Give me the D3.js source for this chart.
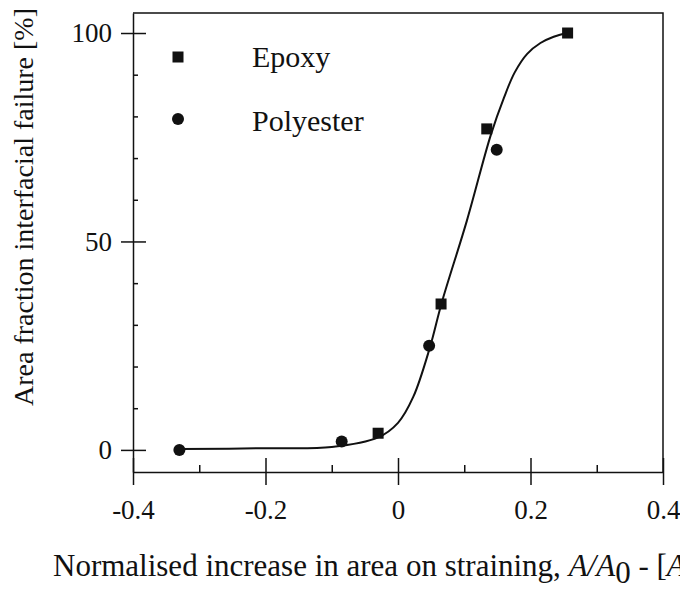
<!DOCTYPE html>
<html>
<head>
<meta charset="utf-8">
<script src="https://cdn.jsdelivr.net/npm/d3@7"></script>
<style>
  body { margin: 0; background: #fff; }
  svg { display: block; font-family: "Liberation Serif", "Times New Roman", serif; }
</style>
</head>
<body>
<div id="graph_area"></div>
<script>
// Data
const epoxyX = [-0.03, 0.065, 0.134, 0.256];
const epoxyY = [4, 35, 77, 100];
const polyX = [-0.33, -0.085, 0.047, 0.149];
const polyY = [0, 2, 25, 72];

// Fitted curve, traced by eye
const fitX = [-0.33, -0.2, -0.1, -0.03, 0, 0.023, 0.048, 0.066, 0.104, 0.14, 0.16, 0.176, 0.195, 0.215, 0.235, 0.255];
const fitY = [0.2, 0.4, 0.7, 3.0, 6.5, 12.7, 24.5, 35.3, 55, 75.5, 84.5, 90.5, 95, 97.6, 99.1, 100];

const xTicks = [-0.4, -0.2, 0, 0.2, 0.4];
const xTickLabels = ['-0.4', '-0.2', '0', '0.2', '0.4'];
const xMinor = [-0.3, -0.1, 0.1, 0.3];
const yTicks = [0, 50, 100];
const yMinor = [10, 20, 30, 40, 60, 70, 80, 90];

const legendNames = ['Epoxy', 'Polyester'];

const W = 680, H = 590;
const svg = d3.select('#graph_area')
  .append('svg')
    .attr('width', W)
    .attr('height', H);

// Scales
const x = d3.scaleLinear().domain([-0.4, 0.4]).range([133, 663]);
const y = d3.scaleLinear().domain([-5.3, 104.8]).range([472, 13]);

const ink = '#111';

// Frame (top and right)
svg.append('path')
  .attr('d', `M${x(-0.4)},${y(104.8)}H${x(0.4)}V${y(-5.3)}`)
  .attr('fill', 'none')
  .attr('stroke', ink)
  .attr('stroke-width', 1.5);

// X axis
const xAxis = svg.append('g')
  .attr('transform', `translate(0,${y(-5.3)})`)
  .call(d3.axisBottom(x).tickValues(xTicks).tickSizeInner(13).tickSizeOuter(0)
    .tickFormat((d, i) => xTickLabels[i]));
xAxis.selectAll('text').attr('y', 47).attr('dy', 0);
svg.append('g')
  .attr('transform', `translate(0,${y(-5.3)})`)
  .call(d3.axisTop(x).tickValues(xTicks).tickSize(14).tickFormat(''))
  .call(g => g.select('.domain').remove());
svg.append('g')
  .attr('transform', `translate(0,${y(-5.3)})`)
  .call(d3.axisTop(x).tickValues(xMinor).tickSize(7).tickFormat(''))
  .call(g => g.select('.domain').remove());

// Y axis
const yAxis = svg.append('g')
  .attr('transform', `translate(${x(-0.4)},0)`)
  .call(d3.axisLeft(y).tickValues(yTicks).tickSizeInner(12).tickSizeOuter(0).tickPadding(9));
svg.append('g')
  .attr('transform', `translate(${x(-0.4)},0)`)
  .call(d3.axisRight(y).tickValues(yTicks).tickSize(13).tickFormat(''))
  .call(g => g.select('.domain').remove());
svg.append('g')
  .attr('transform', `translate(${x(-0.4)},0)`)
  .call(d3.axisRight(y).tickValues(yMinor).tickSize(5).tickFormat(''))
  .call(g => g.select('.domain').remove());

// Axis styling
svg.selectAll('.domain, .tick line')
  .attr('stroke', ink)
  .attr('stroke-width', 1.5);
svg.selectAll('.tick text')
  .attr('fill', ink)
  .attr('font-family', '"Liberation Serif", "Times New Roman", serif')
  .attr('font-size', 27);

// Fitted line
const fitData = fitX.map((v, i) => ({ xval: v, yval: fitY[i] }));
svg.append('path')
  .datum(fitData)
  .attr('fill', 'none')
  .attr('stroke', ink)
  .attr('stroke-width', 2)
  .attr('d', d3.line()
    .x(d => x(d.xval))
    .y(d => y(d.yval))
    .curve(d3.curveCatmullRom.alpha(0.5)));

// Epoxy squares
const sq = 11;
svg.append('g')
  .selectAll('rect')
  .data(epoxyX.map((v, i) => ({ xval: v, yval: epoxyY[i] })))
  .join('rect')
    .attr('x', d => x(d.xval) - sq / 2)
    .attr('y', d => y(d.yval) - sq / 2)
    .attr('width', sq)
    .attr('height', sq)
    .attr('fill', ink);

// Polyester circles
svg.append('g')
  .selectAll('circle')
  .data(polyX.map((v, i) => ({ xval: v, yval: polyY[i] })))
  .join('circle')
    .attr('cx', d => x(d.xval))
    .attr('cy', d => y(d.yval))
    .attr('r', 6)
    .attr('fill', ink);

// Legend
const leg = svg.append('g');
leg.append('rect')
  .attr('x', 178 - sq / 2).attr('y', 57 - sq / 2)
  .attr('width', sq).attr('height', sq)
  .attr('fill', ink);
leg.append('circle')
  .attr('cx', 178).attr('cy', 119).attr('r', 6)
  .attr('fill', ink);
leg.selectAll('text')
  .data(legendNames)
  .join('text')
    .attr('x', 252)
    .attr('y', (d, i) => [67, 131][i])
    .attr('font-size', 30)
    .attr('fill', ink)
    .text(d => d);

// Y title
svg.append('text')
  .attr('transform', 'translate(33,207) rotate(-90)')
  .attr('text-anchor', 'middle')
  .attr('font-size', 28)
  .attr('fill', ink)
  .text('Area fraction interfacial failure [%]');

// X title
const xt = svg.append('text')
  .attr('x', 53)
  .attr('y', 576)
  .attr('font-size', 31)
  .attr('fill', ink);
xt.append('tspan').text('Normalised increase in area on straining, ');
xt.append('tspan').attr('font-style', 'italic').text('A/A');
xt.append('tspan').attr('dy', 7).text('0');
xt.append('tspan').attr('dy', -7).text(' - [');
xt.append('tspan').attr('font-style', 'italic').text('A/A');
xt.append('tspan').attr('dy', 7).text('0');
xt.append('tspan').attr('dy', -7).text(']');
</script>
</body>
</html>
